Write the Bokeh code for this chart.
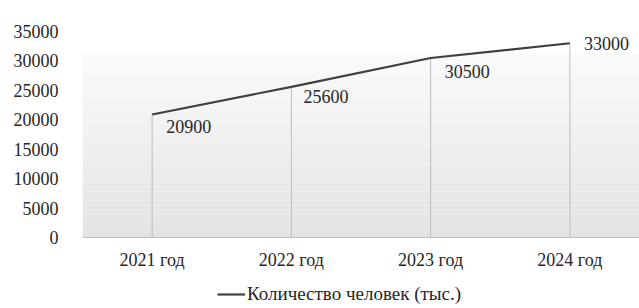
from bokeh.plotting import figure
from bokeh.models import (ColumnDataSource, Legend, LegendItem, BoxAnnotation,
                          FixedTicker, Range1d, FactorRange)
from bokeh.core.properties import value
from bokeh.embed import file_html
from bokeh.resources import INLINE

# ---- data ----
years = ["2021 год", "2022 год", "2023 год", "2024 год"]
people = [20900, 25600, 30500, 33000]
y_ticks = [0, 5000, 10000, 15000, 20000, 25000, 30000, 35000]
series_name = "Количество человек (тыс.)"

FONT = "Liberation Serif"
TXT = "#262626"

# frame extends below zero so the category axis and legend sit inside it
p = figure(x_range=FactorRange(*years), y_range=Range1d(-12063, 35000),
           width=639, height=308, output_backend="svg", toolbar_location=None,
           min_border_left=82, min_border_right=0, min_border_top=31,
           min_border_bottom=0)
p.outline_line_color = None
p.xgrid.grid_line_color = None
p.ygrid.grid_line_color = None
p.background_fill_color = "white"
p.border_fill_color = "white"

# gradient plot-area background (white at top -> light gray at bottom)
n = 40
top_val = 31300
c_top = (250, 250, 250)
c_bot = (227, 227, 227)
for i in range(n):
    f = i / (n - 1)
    col = tuple(int(round(c_bot[k] + (c_top[k] - c_bot[k]) * f)) for k in range(3))
    b = top_val * i / n
    t = top_val * (i + 1) / n
    p.add_layout(BoxAnnotation(bottom=b, top=t, fill_color="#%02x%02x%02x" % col,
                               fill_alpha=1, line_color=None, level="underlay"))

src = ColumnDataSource(dict(x=years, y=people, base=[0] * len(years),
                            lab=[str(v) for v in people]))

p.segment(x0="x", y0="base", x1="x", y1="y", source=src,
          line_color="#bdbdbd", line_width=1)
ln = p.line(x="x", y="y", source=src, line_color="#404040", line_width=2.2)

dx = [14, 12, 14, 14]
dy = [12, 10, 14, 0]
src.data["dx"] = dx
src.data["dy"] = dy
p.text(x="x", y="y", text="lab", source=src, x_offset="dx", y_offset="dy",
       text_font=value(FONT), text_font_size="18px", text_color=TXT,
       text_align="left", text_baseline="middle")

# axes
p.yaxis.ticker = FixedTicker(ticks=y_ticks)
p.yaxis.axis_line_color = None
p.yaxis.major_tick_line_color = None
p.yaxis.minor_tick_line_color = None
p.yaxis.major_label_standoff = 18
p.yaxis.major_label_text_font = FONT
p.yaxis.major_label_text_font_size = "18px"
p.yaxis.major_label_text_color = TXT

p.xaxis.fixed_location = 0
p.xaxis.axis_line_color = "#bfbfbf"
p.xaxis.major_tick_line_color = None
p.xaxis.minor_tick_line_color = None
p.xaxis.major_label_standoff = 6
p.xaxis.major_label_text_font = FONT
p.xaxis.major_label_text_font_size = "18px"
p.xaxis.major_label_text_color = TXT
p.x_range.range_padding = 0

legend = Legend(items=[LegendItem(label=series_name, renderers=[ln])],
                location=(135, 3), orientation="horizontal",
                label_text_font=FONT, label_text_font_size="19px",
                label_text_color=TXT, glyph_width=28, glyph_height=18,
                label_standoff=2, padding=0, margin=0,
                border_line_color=None, background_fill_alpha=0)
p.add_layout(legend, "center")

open("out.html", "w").write(file_html(p, INLINE))
